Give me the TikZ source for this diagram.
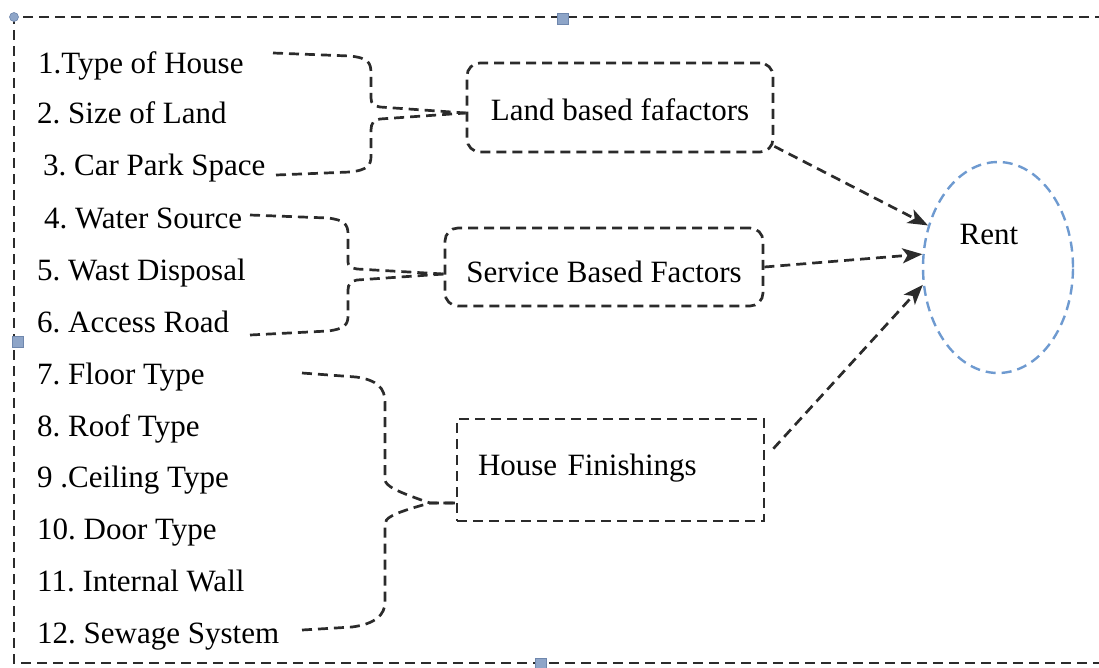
\documentclass[tikz,border=0pt]{standalone}
\usepackage{fontspec}
\setmainfont{Liberation Serif}
\usetikzlibrary{arrows.meta,shapes.geometric,calc}
\definecolor{lineC}{HTML}{2B2B2B}
\definecolor{rentC}{HTML}{6E9AD0}
\definecolor{handleF}{HTML}{8EA5C8}
\definecolor{handleD}{HTML}{6F87AD}
\tikzset{
  dsh/.style={draw=lineC, line width=2.7pt, dash pattern=on 10pt off 6pt},
  item/.style={anchor=base west, inner sep=0pt, font=\fontsize{31}{36}\selectfont},
  fbox/.style={dsh, inner sep=0pt, font=\fontsize{31}{36}\selectfont, text depth=0pt},
  arr/.style={dsh, -{Stealth[length=20pt,width=15pt,inset=5pt]}},
  handle/.style={fill=handleF, draw=handleD, line width=0.6pt, minimum size=11pt, inner sep=0pt}
}
\frenchspacing
\begin{document}
\begin{tikzpicture}[x=1pt,y=-1pt]
\useasboundingbox (0,0) rectangle (1099,667);
% outer frame
\coordinate (fTR) at (1105,17);
\coordinate (fTL) at (14,17);
\coordinate (fBL) at (14,663);
\coordinate (fBR) at (1105,663);
\draw[dsh] (fTR) -- (fTL) -- (fBL) -- (fBR);
% selection handles
\node[handle, circle, minimum size=9pt] (h1) at (14,17) {};
\node[handle, rectangle] (h2) at (563,19) {};
\node[handle, rectangle] (h3) at (18,342) {};
\node[handle, rectangle] (h4) at (541,664) {};
% list items
\node[item] (i1) at (38,73) {1.Type of House};
\node[item] (i2) at (37,123) {2. Size of Land};
\node[item] (i3) at (43,175) {3. Car Park Space};
\node[item] (i4) at (44,228) {4. Water Source};
\node[item] (i5) at (37,280) {5. Wast Disposal};
\node[item] (i6) at (37,332) {6. Access Road};
\node[item] (i7) at (37,384) {7. Floor Type};
\node[item] (i8) at (37,436) {8. Roof Type};
\node[item] (i9) at (37,487) {9 .Ceiling Type};
\node[item] (i10) at (37,539) {10. Door Type};
\node[item] (i11) at (37,591) {11. Internal Wall};
\node[item] (i12) at (37,643) {12. Sewage System};
% factor boxes
\node[fbox, rounded corners=13pt, minimum width=306pt, minimum height=89pt, text height=25pt] (land) at (620,107.5) {Land based fafactors};
\node[fbox, rounded corners=13pt, minimum width=318pt, minimum height=78pt, text height=30pt] (svc) at (604,267) {Service Based Factors};
\node[fbox, minimum width=307pt, minimum height=102pt, text width=265pt, align=left, text height=21pt, text depth=11pt] (house) at (610.5,470) {House Finishings};
% rent ellipse
\node[ellipse, draw=rentC, line width=2.4pt, dash pattern=on 10pt off 6pt, minimum width=150pt, minimum height=211pt, inner sep=0pt, font=\fontsize{31}{36}\selectfont, text height=20pt, text depth=66pt] (rent) at (998,267.5) {Rent\hspace*{18pt}};
% brace 1
\coordinate (b1a) at (273,53);
\coordinate (b1b) at (276,175);
\coordinate (j1) at ($(land.west)+(0,5.5)$);
\draw[dsh] (b1a) -- (350,56) .. controls (369,58) and (371,63) .. (371,74) -- (371,98) .. controls (371,104) and (374,106) .. (380,107) -- (j1);
\draw[dsh] (b1b) -- (350,172) .. controls (368,170) and (371,165) .. (371,156) -- (371,130) .. controls (371,123) and (374,120) .. (380,119) -- (j1);
% brace 2
\coordinate (b2a) at (250,215);
\coordinate (b2b) at (250,335);
\coordinate (j2) at ($(svc.west)+(0,7)$);
\draw[dsh] (b2a) -- (328,218) .. controls (344,220) and (348,224) .. (348,234) -- (348,262) .. controls (348,266) and (351,268) .. (357,269) -- (j2);
\draw[dsh] (b2b) -- (328,331) .. controls (344,329) and (348,325) .. (348,316) -- (348,290) .. controls (348,284) and (351,281) .. (357,280) -- (j2);
% brace 3
\coordinate (b3a) at (302,373);
\coordinate (b3b) at (302,630);
\coordinate (j3) at ($(house.west)+(0,33)$);
\draw[dsh] (b3a) -- (356,377) .. controls (377,380) and (385,388) .. (385,402) -- (385,480) .. controls (386,486) and (395,491) .. (430,503) -- (j3);
\draw[dsh] (b3b) -- (352,627) .. controls (375,624) and (385,615) .. (385,602) -- (385,525) .. controls (385,518) and (390,514) .. (430,503) -- (j3);
% arrows
\draw[arr] ($(land.south east)+(0,-7)$) -- (rent.149);
\draw[arr] (svc.east) -- (rent.170);
\draw[arr] ($(house.north east)+(8,31)$) -- (rent.193);
\end{tikzpicture}
\end{document}
